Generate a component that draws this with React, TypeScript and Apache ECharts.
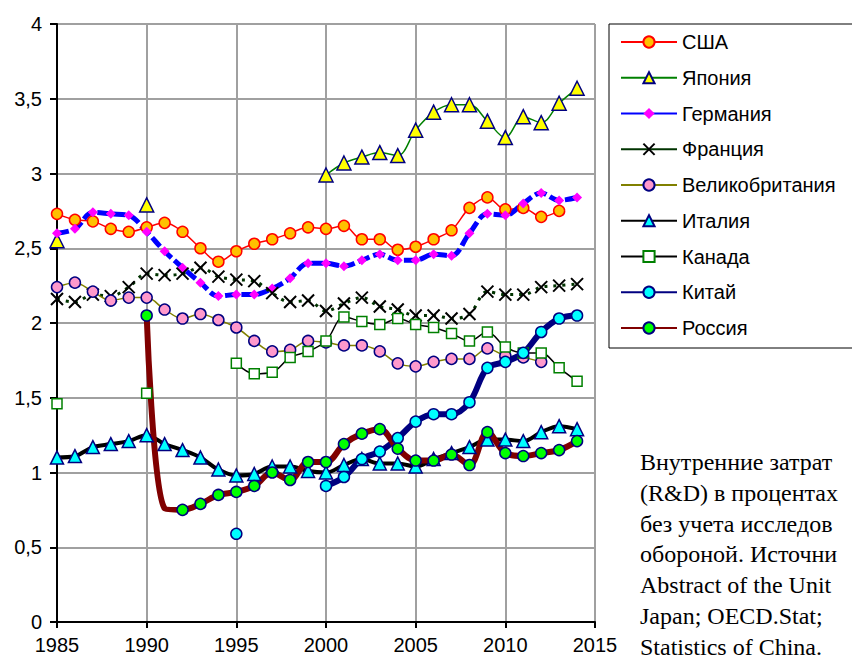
import React, { useEffect, useRef } from "react";
import * as echarts from "echarts";

const years = [
  "1985", "1986", "1987", "1988", "1989", "1990", "1991", "1992", "1993", "1994",
  "1995", "1996", "1997", "1998", "1999", "2000", "2001", "2002", "2003", "2004",
  "2005", "2006", "2007", "2008", "2009", "2010", "2011", "2012", "2013", "2014", "2015",
];

const usa = [2.73, 2.69, 2.68, 2.63, 2.61, 2.64, 2.67, 2.61, 2.5, 2.41, 2.48, 2.53, 2.56, 2.6, 2.64, 2.63, 2.65, 2.56, 2.56, 2.49, 2.51, 2.56, 2.62, 2.77, 2.84, 2.76, 2.77, 2.71, 2.75, null, null];
const japan = [2.55, null, null, null, null, 2.79, null, null, null, null, null, null, null, null, null, 2.99, 3.07, 3.11, 3.14, 3.12, 3.29, 3.41, 3.46, 3.46, 3.35, 3.24, 3.38, 3.34, 3.47, 3.57, null];
const germany = [2.6, 2.63, 2.74, 2.73, 2.72, 2.61, 2.48, 2.37, 2.27, 2.18, 2.19, 2.19, 2.23, 2.3, 2.4, 2.4, 2.38, 2.42, 2.46, 2.42, 2.42, 2.46, 2.45, 2.6, 2.73, 2.72, 2.8, 2.87, 2.82, 2.84, null];
const france = [2.16, 2.14, 2.19, 2.18, 2.24, 2.33, 2.32, 2.33, 2.37, 2.31, 2.29, 2.28, 2.2, 2.14, 2.15, 2.08, 2.13, 2.17, 2.11, 2.09, 2.05, 2.05, 2.03, 2.06, 2.21, 2.19, 2.19, 2.24, 2.25, 2.26, null];
const uk = [2.24, 2.27, 2.21, 2.15, 2.17, 2.17, 2.09, 2.03, 2.06, 2.02, 1.97, 1.88, 1.81, 1.82, 1.88, 1.87, 1.85, 1.85, 1.81, 1.73, 1.71, 1.74, 1.76, 1.76, 1.83, 1.78, 1.77, 1.74, null, null, null];
const italy = [1.1, 1.11, 1.17, 1.19, 1.21, 1.25, 1.19, 1.15, 1.1, 1.02, 0.98, 0.99, 1.04, 1.04, 1.01, 1.0, 1.05, 1.09, 1.06, 1.06, 1.04, 1.09, 1.13, 1.17, 1.22, 1.22, 1.21, 1.27, 1.31, 1.29, null];
const canada = [1.46, null, null, null, null, 1.53, null, null, null, null, 1.73, 1.66, 1.67, 1.77, 1.81, 1.88, 2.04, 2.01, 1.99, 2.03, 1.99, 1.97, 1.93, 1.88, 1.94, 1.84, 1.8, 1.8, 1.7, 1.61, null];
const china = [null, null, null, null, null, null, null, null, null, null, 0.59, null, null, null, null, 0.91, 0.97, 1.09, 1.14, 1.23, 1.34, 1.39, 1.39, 1.47, 1.7, 1.74, 1.8, 1.94, 2.03, 2.05, null];
const russia = [null, null, null, null, null, 2.05, 0.76, 0.75, 0.79, 0.85, 0.87, 0.91, 1.0, 0.95, 1.07, 1.07, 1.19, 1.26, 1.29, 1.16, 1.08, 1.08, 1.12, 1.05, 1.27, 1.13, 1.11, 1.13, 1.15, 1.21, null];
const russiaNoMarkerYears = ["1991"];

const yTicks = [0, 0.5, 1, 1.5, 2, 2.5, 3, 3.5, 4];

// Note text, as far as it is visible in the reference (it runs off the right edge there)
const noteLines = [
  "Внутренние затрат",
  "(R&D) в процентах",
  "без учета исследов",
  "обороной. Источни",
  "Abstract of the Unit",
  "Japan; OECD.Stat;",
  "Statistics of China.",
];

const SANS = '"Liberation Sans", Arial, sans-serif';
const SERIF = '"Liberation Serif", "Times New Roman", serif';

function toData(values: (number | null)[], hidden: string[] = []) {
  return values.map((v, i) => {
    if (v == null) return "-";
    if (hidden.includes(years[i])) return { value: v, symbol: "none" };
    return v;
  });
}

export default function App() {
  const ref = useRef<HTMLDivElement>(null);
  useEffect(() => {
    if (!ref.current) return;
    const chart = echarts.init(ref.current, null, { renderer: "svg" });
    const mk = (name: string, values: (number | null)[], o: any, hidden: string[] = []) => ({
      type: "line",
      name,
      data: toData(values, hidden),
      smooth: 0.35,
      connectNulls: false,
      showAllSymbol: true,
      silent: true,
      ...o,
    });
    const series = [
      mk("США", usa, {
        lineStyle: { color: "#ff0000", width: 1.5 },
        symbol: "circle",
        symbolSize: 11,
        itemStyle: { color: "#ffc000", borderColor: "#ff0000", borderWidth: 1.5 },
      }),
      mk("Япония", japan, {
        lineStyle: { color: "#008000", width: 1.5 },
        symbol: "triangle",
        symbolSize: 14,
        itemStyle: { color: "#ffff00", borderColor: "#000080", borderWidth: 1.5 },
      }),
      mk("Германия", germany, {
        lineStyle: { color: "#0000ff", width: 5, type: [12, 4] },
        symbol: "diamond",
        symbolSize: 10,
        itemStyle: { color: "#ff00ff", borderWidth: 0 },
      }),
      mk("Франция", france, {
        lineStyle: { color: "#003300", width: 3, type: [3, 6] },
        symbol: "path://M0,0L10,10M10,0L0,10",
        symbolSize: 12,
        itemStyle: { color: "transparent", borderColor: "#000000", borderWidth: 2 },
      }),
      mk("Великобритания", uk, {
        lineStyle: { color: "#808000", width: 1.5 },
        symbol: "circle",
        symbolSize: 11,
        itemStyle: { color: "#ff99cc", borderColor: "#000080", borderWidth: 1.5 },
      }),
      mk("Италия", italy, {
        lineStyle: { color: "#000000", width: 4 },
        symbol: "triangle",
        symbolSize: 13,
        itemStyle: { color: "#00ffff", borderColor: "#000080", borderWidth: 1.5 },
      }),
      mk("Канада", canada, {
        lineStyle: { color: "#000000", width: 1.5 },
        symbol: "rect",
        symbolSize: 10,
        itemStyle: { color: "#ffffff", borderColor: "#008000", borderWidth: 1.5 },
      }),
      mk("Китай", china, {
        lineStyle: { color: "#000080", width: 6 },
        symbol: "circle",
        symbolSize: 11,
        itemStyle: { color: "#00ffff", borderColor: "#000080", borderWidth: 1.5 },
      }),
      mk(
        "Россия",
        russia,
        {
          lineStyle: { color: "#800000", width: 6 },
          symbol: "circle",
          symbolSize: 11,
          itemStyle: { color: "#00ff00", borderColor: "#000080", borderWidth: 1.5 },
        },
        russiaNoMarkerYears
      ),
    ];

    const legendData = series.map((s: any) =>
      s.name === "Германия" || s.name === "Франция"
        ? { name: s.name, lineStyle: { type: "solid" } }
        : { name: s.name }
    );

    chart.setOption({
      animation: false,
      backgroundColor: "#ffffff",
      grid: { left: 57, top: 24, width: 538, height: 598, containLabel: false },
      legend: {
        orient: "vertical",
        left: 609,
        top: 24,
        padding: [8, 40, 10, 11],
        itemGap: 15.75,
        itemWidth: 56,
        itemHeight: 14,
        borderColor: "#000000",
        borderWidth: 1,
        backgroundColor: "#ffffff",
        selectedMode: false,
        data: legendData,
        textStyle: { fontFamily: SANS, fontSize: 20, color: "#000000", lineHeight: 20 },
      },
      xAxis: {
        type: "category",
        data: years,
        boundaryGap: false,
        axisLine: { lineStyle: { color: "#000000", width: 2 } },
        axisTick: { show: true, interval: 4, length: 6, lineStyle: { color: "#000000", width: 2 } },
        axisLabel: { interval: 4, margin: 13, fontFamily: SANS, fontSize: 20, color: "#000000" },
        splitLine: { show: true, interval: 4, lineStyle: { color: "#a0a0a0", width: 2 } },
      },
      yAxis: {
        type: "value",
        min: yTicks[0],
        max: yTicks[yTicks.length - 1],
        interval: 0.5,
        axisLine: { show: true, lineStyle: { color: "#000000", width: 2 } },
        axisTick: { show: true, length: 7, lineStyle: { color: "#000000", width: 2 } },
        axisLabel: {
          margin: 15,
          fontFamily: SANS,
          fontSize: 20,
          color: "#000000",
          formatter: (v: number) => String(v).replace(".", ","),
        },
        splitLine: { show: true, lineStyle: { color: "#a0a0a0", width: 2 } },
      },
      graphic: noteLines.map((t, i) => ({
        type: "text",
        x: 640,
        y: 462 + i * 30.8,
        silent: true,
        style: {
          text: t,
          fontFamily: SERIF,
          fontSize: 24,
          fill: "#000000",
          verticalAlign: "middle",
          align: "left",
        },
      })),
      series,
    });
    return () => chart.dispose();
  }, []);
  return (
    <div
      ref={ref}
      style={{ position: "fixed", left: 0, top: 0, width: 852, height: 659, background: "#fff" }}
    />
  );
}
